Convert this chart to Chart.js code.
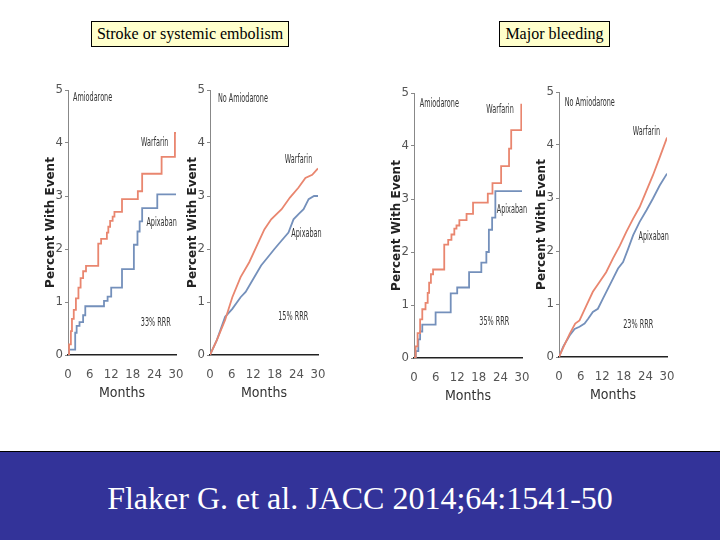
<!DOCTYPE html>
<html>
<head>
<meta charset="utf-8">
<script src="https://cdn.jsdelivr.net/npm/chart.js@4.4.1/dist/chart.umd.min.js"></script>
<style>
  body { margin: 0; width: 720px; height: 540px; background: #fff; position: relative; overflow: hidden; }
  .box { position: absolute; top: 21px; height: 24px; border: 1px solid #000; background: #ffffcc;
         font-family: "Liberation Serif", serif; font-size: 16px; line-height: 24px; text-align: center; }
  .panel { position: absolute; width: 160px; height: 330px; }
  #banner { position: absolute; left: 0; top: 451px; width: 720px; height: 89px; background: #333399;
            border-top: 1px solid #000; color: #fff; font-family: "Liberation Serif", serif; font-size: 32px;
            text-align: center; line-height: 92px; }
</style>
</head>
<body>
<div class="box" style="left:91px;width:196px">Stroke or systemic embolism</div>
<div class="box" style="left:499px;width:109px">Major bleeding</div>

<div class="panel" style="left:30px;top:80px"><canvas id="c1" width="160" height="330"></canvas></div>
<div class="panel" style="left:172px;top:80px"><canvas id="c2" width="160" height="330"></canvas></div>
<div class="panel" style="left:376px;top:83px"><canvas id="c3" width="160" height="330"></canvas></div>
<div class="panel" style="left:521px;top:82px"><canvas id="c4" width="160" height="330"></canvas></div>

<div id="banner">Flaker G. et al. JACC 2014;64:1541-50</div>

<script>
// stroke / systemic embolism, amiodarone
const strokeAmioWarfMonths = [0, 0.3, 0.8, 1.1, 1.6, 2.2, 2.9, 3.5, 4.2, 5.0, 8.4, 9.2, 10.8, 11.2, 11.7, 12.4, 12.9, 15.0, 19.4, 20.6, 26.0, 29.7, 30]
const strokeAmioWarf = [0, 0.2, 0.45, 0.68, 0.85, 1.07, 1.27, 1.45, 1.58, 1.68, 2.1, 2.19, 2.31, 2.42, 2.53, 2.61, 2.7, 2.94, 3.09, 3.42, 3.74, 4.19, 4.19]
const strokeAmioApixMonths = [0, 0.3, 2.0, 2.4, 3.2, 4.2, 4.8, 10.0, 11.0, 12.0, 15.0, 18.3, 19.3, 19.9, 20.6, 24.8, 30]
const strokeAmioApix = [0, 0.1, 0.42, 0.55, 0.62, 0.75, 0.92, 1.02, 1.1, 1.27, 1.62, 2.08, 2.33, 2.52, 2.77, 3.03, 3.03]

// stroke / systemic embolism, no amiodarone
const strokeNoWarfMonths = [0, 1.9, 4.2, 6.2, 8.5, 10.9, 12.8, 15.1, 17.0, 19.9, 22.2, 24.6, 26.5, 28.4, 30]
const strokeNoWarf = [0, 0.28, 0.66, 1.09, 1.47, 1.75, 2.03, 2.37, 2.56, 2.75, 2.97, 3.16, 3.34, 3.4, 3.52]
const strokeNoApixMonths = [0, 1.9, 4.2, 6.2, 8.5, 9.9, 11.8, 14.2, 16.0, 17.9, 19.9, 21.8, 23.2, 24.6, 26.0, 27.4, 28.9, 30]
const strokeNoApix = [0, 0.28, 0.72, 0.87, 1.09, 1.19, 1.41, 1.69, 1.84, 2.0, 2.16, 2.31, 2.56, 2.66, 2.75, 2.94, 3.0, 3.0]

// major bleeding, amiodarone
const bleedAmioWarfMonths = [0, 0.45, 1.0, 1.7, 2.3, 3.2, 3.8, 4.2, 4.7, 5.3, 8.4, 9.5, 10.4, 11.2, 11.8, 12.6, 14.6, 16.4, 20.5, 21.8, 24.2, 26.4, 27.0, 29.8, 30]
const bleedAmioWarf = [0, 0.22, 0.47, 0.73, 0.92, 1.04, 1.23, 1.42, 1.58, 1.67, 2.14, 2.23, 2.33, 2.44, 2.5, 2.6, 2.72, 2.93, 3.1, 3.3, 3.62, 3.95, 4.3, 4.78, 4.78]
const bleedAmioApixMonths = [0, 0.5, 1.2, 1.7, 2.3, 6.0, 10.2, 12.0, 15.3, 18.7, 20.1, 20.8, 21.7, 22.6, 30]
const bleedAmioApix = [0, 0.13, 0.35, 0.5, 0.63, 0.86, 1.22, 1.33, 1.62, 1.8, 2.0, 2.42, 2.65, 3.15, 3.15]

// major bleeding, no amiodarone
const bleedNoWarfMonths = [0, 1.2, 3.0, 4.5, 5.7, 7.6, 9.4, 11.3, 13.1, 15.0, 16.9, 18.7, 20.6, 22.4, 24.3, 26.1, 28.0, 30]
const bleedNoWarf = [0, 0.18, 0.44, 0.63, 0.69, 0.97, 1.23, 1.42, 1.6, 1.86, 2.1, 2.36, 2.61, 2.83, 3.14, 3.43, 3.77, 4.14]
const bleedNoApixMonths = [0, 1.2, 3.0, 4.35, 5.7, 7.1, 8.1, 9.4, 10.8, 12.2, 13.6, 15.0, 16.4, 17.8, 19.2, 20.6, 22.4, 24.3, 26.1, 28.0, 30]
const bleedNoApix = [0, 0.2, 0.41, 0.53, 0.57, 0.63, 0.72, 0.85, 0.91, 1.1, 1.29, 1.48, 1.67, 1.79, 2.04, 2.3, 2.55, 2.77, 2.99, 3.24, 3.46]

const monthTicks = [0, 6, 12, 18, 24, 30]

// text labels inside each panel: [text, month, value, align]
const labels1 = [["Amiodarone", 1.4, 4.85, "left"], ["Warfarin", 24.1, 4.0, "center"], ["Apixaban", 26, 2.49, "center"], ["33% RRR", 24.4, 0.6, "center"]]
const labels2 = [["No Amiodarone", 2.2, 4.83, "left"], ["Warfarin", 24.6, 3.68, "center"], ["Apixaban", 26.8, 2.28, "center"], ["15% RRR", 23.1, 0.72, "center"]]
const labels3 = [["Amiodarone", 1.6, 4.8, "left"], ["Warfarin", 23.9, 4.68, "center"], ["Apixaban", 27.2, 2.8, "center"], ["35% RRR", 22.3, 0.68, "center"]]
const labels4 = [["No Amiodarone", 1.6, 4.79, "left"], ["Warfarin", 24.3, 4.25, "center"], ["Apixaban", 26.3, 2.26, "center"], ["23% RRR", 22, 0.6, "center"]]

const warfColor = "#e9866f"
const apixColor = "#7490bb"
const narrow = "'Liberation Sans Narrow', 'DejaVu Sans Condensed', sans-serif"

const toPts = (xs, ys) => xs.map((x, i) => ({x: x, y: ys[i]}))

const panelText = {
  id: "panelText",
  afterDatasetsDraw(chart, args, opts) {
    const ctx = chart.ctx
    const sx = chart.scales.x, sy = chart.scales.y
    ctx.save()
    ctx.fillStyle = "#333"
    ctx.font = "12px " + narrow
    ctx.textBaseline = "middle"
    opts.items.forEach(([t, mx, v, align]) => {
      const px = sx.getPixelForValue(mx), py = sy.getPixelForValue(v)
      ctx.save()
      ctx.translate(px, py)
      ctx.scale(0.6, 1)
      ctx.textAlign = align
      ctx.fillText(t, 0, 0)
      ctx.restore()
    })
    ctx.restore()
  }
}

function makeChart(id, warf, apix, stepped, items) {
  new Chart(document.getElementById(id), {
    type: "line",
    data: {
      datasets: [
        { label: "Warfarin", data: warf, borderColor: warfColor, borderWidth: 1.8, pointRadius: 0, stepped: stepped, tension: 0 },
        { label: "Apixaban", data: apix, borderColor: apixColor, borderWidth: 1.8, pointRadius: 0, stepped: stepped, tension: 0 }
      ]
    },
    options: {
      responsive: false,
      animation: false,
      layout: { padding: { top: 10, right: 14, left: 0, bottom: 0 } },
      plugins: { legend: { display: false }, tooltip: { enabled: false }, panelText: { items: items } },
      scales: {
        x: {
          type: "linear", min: 0, max: 30,
          afterBuildTicks: (s) => { s.ticks = monthTicks.map(v => ({value: v})) },
          afterFit: (s) => { s.height = 55 },
          grid: { display: false },
          border: { color: "#222", width: 1.5 },
          ticks: { color: "#555", font: { family: narrow, size: 13 }, padding: 4, maxRotation: 0 },
          title: { display: true, text: "Months", color: "#333", font: { family: narrow, size: 14 }, padding: { top: 0, bottom: 8 } }
        },
        y: {
          min: 0, max: 5,
          ticks: { stepSize: 1, color: "#555", font: { family: narrow, size: 13 }, padding: 2 },
          afterFit: (s) => { s.width = 38 },
          grid: { drawOnChartArea: false, tickLength: 3, color: "#888" },
          border: { color: "#888", width: 1 },
          title: { display: true, text: "Percent With Event", color: "#222", font: { family: "'DejaVu Sans', sans-serif", size: 12, weight: "bold" }, padding: { top: 14, bottom: 0 } }
        }
      }
    },
    plugins: [panelText]
  })
}

makeChart("c1", toPts(strokeAmioWarfMonths, strokeAmioWarf), toPts(strokeAmioApixMonths, strokeAmioApix), true, labels1)
makeChart("c2", toPts(strokeNoWarfMonths, strokeNoWarf), toPts(strokeNoApixMonths, strokeNoApix), false, labels2)
makeChart("c3", toPts(bleedAmioWarfMonths, bleedAmioWarf), toPts(bleedAmioApixMonths, bleedAmioApix), true, labels3)
makeChart("c4", toPts(bleedNoWarfMonths, bleedNoWarf), toPts(bleedNoApixMonths, bleedNoApix), false, labels4)
</script>
</body>
</html>
